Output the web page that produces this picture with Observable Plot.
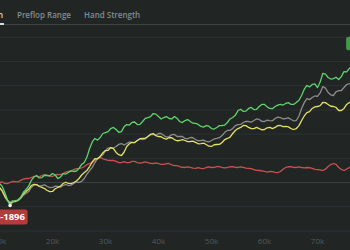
<!DOCTYPE html>
<html><head><meta charset="utf-8">
<script src="https://cdn.jsdelivr.net/npm/d3@7"></script>
<script src="https://cdn.jsdelivr.net/npm/@observablehq/plot@0.6"></script>
<style>
html,body{margin:0;padding:0;background:#212625;width:350px;height:250px;overflow:hidden;font-family:"Open Sans",sans-serif}
#tabs{position:relative;height:28px}
#sep{position:absolute;left:0;top:24px;width:350px;height:1px;background:#3d4244}
.tab{position:absolute;top:9px;font-size:8px;font-weight:600;color:#858b8f;white-space:nowrap;line-height:11px}
.tab.active{color:#d8dcde}
.ul{position:absolute;top:23px;height:2px;background:#d8dcde}
#chart svg{display:block}
</style></head>
<body>
<div id="tabs"><div id="sep"></div></div>
<div id="chart"></div>
<script>
const tabNames = ["Session", "Preflop Range", "Hand Strength"];
const hands = [10000,10500,11000,11500,12000,12500,13000,13500,14000,14500,
15000,15500,16000,16500,17000,17500,18000,18500,19000,19500,
20000,20500,21000,21500,22000,22500,23000,23500,24000,24500,
25000,25500,26000,26500,27000,27500,28000,28500,29000,29500,
30000,30500,31000,31500,32000,32500,33000,33500,34000,34500,
35000,35500,36000,36500,37000,37500,38000,38500,39000,39500,
40000,40500,41000,41500,42000,42500,43000,43500,44000,44500,
45000,45500,46000,46500,47000,47500,48000,48500,49000,49500,
50000,50500,51000,51500,52000,52500,53000,53500,54000,54500,
55000,55500,56000,56500,57000,57500,58000,58500,59000,59500,
60000,60500,61000,61500,62000,62500,63000,63500,64000,64500,
65000,65500,66000,66500,67000,67500,68000,68500,69000,69500,
70000,70500,71000,71500,72000,72500,73000,73500,74000,74500,
75000,75500,76000,76500,77000];
const netWon = [-80,-300,-830,-1450,-1896,-1600,-1490,-1450,-1240,-800,
-580,-300,170,450,580,380,410,600,580,550,
740,620,330,450,740,700,830,960,910,950,
1160,1500,1650,2100,2810,3350,3640,3500,3720,4050,
4130,4200,4460,4550,4380,4150,4210,4600,4790,4750,
4960,5000,4790,4800,5040,5300,5370,5450,5700,5650,
5450,5250,5370,5450,5290,5250,5450,5300,5040,4950,
5120,5200,5040,4900,4880,4800,4630,4580,4710,4650,
4460,4420,4550,4700,4710,4750,4960,5250,5370,5550,
5950,6050,5870,5900,6120,6200,6030,6050,6280,6450,
6450,6250,6120,6100,6280,6400,6450,6400,6530,6600,
6450,6450,6610,6800,7190,7700,8020,7900,8100,8150,
7850,8300,9010,8950,8680,8550,8590,8700,8510,8750,
9170,9150,9420,9600,9590];
const allInEV = [-410,-650,-1070,-1450,-1650,-1500,-1570,-1500,-1320,-1050,
-910,-750,-410,-200,-170,-300,-250,-200,-330,-420,
-410,-300,-330,-380,-250,-150,-250,-220,-80,50,
0,100,330,700,990,1250,1650,2000,2150,2300,
2640,2850,2890,2850,2980,3150,3220,3100,3220,3350,
3310,3300,3470,3600,3550,3600,3800,3950,3970,3900,
4050,4050,3880,3750,3800,3950,3970,3800,3800,3800,
3640,3600,3720,3700,3550,3450,3470,3500,3390,3350,
3470,3600,3640,3700,3880,4150,4300,4300,4460,4700,
4790,4800,4960,5050,5040,4980,5120,5250,5210,5050,
5040,5150,5120,5100,5290,5400,5370,5250,5290,5350,
5210,5100,5120,5500,6120,6600,6940,6850,7020,7150,
7110,7400,7930,7800,7440,7250,7190,7500,7600,7600,
7850,8100,8180,8150,8260];
const showdown = [-410,-700,-1160,-1500,-1740,-1600,-1570,-1450,-1240,-950,
-740,-550,-250,-150,-170,-330,-410,-500,-660,-760,
-740,-520,-410,-300,-80,20,-80,-100,0,120,
330,620,830,1000,1320,1700,1980,1950,2150,2450,
2640,2650,2890,2800,2480,2300,2230,2500,2980,3200,
3310,3300,3470,3620,3640,3650,3800,3980,4050,3880,
3800,3780,3640,3580,3720,3700,3550,3450,3470,3550,
3470,3380,3390,3420,3310,3200,3220,3250,3140,3000,
2980,3120,3140,3150,3310,3550,3640,3750,4050,4300,
4460,4550,4710,4700,4550,4450,4460,4550,4460,4350,
4380,4520,4550,4450,4550,4700,4710,4620,4630,4600,
4460,4380,4460,4700,5120,5500,5780,5850,6120,6250,
6280,6350,6610,6600,6450,6300,6280,6200,5950,5950,
6120,6450,6610,6600,6690];
const nonShowdown = [0,50,-80,-100,0,90,80,60,170,280,
330,330,410,500,500,470,580,640,580,520,
500,620,660,650,740,860,910,950,1070,1150,
1160,1200,1320,1480,1570,1650,1820,1980,2070,1960,
1900,1830,1820,1820,1740,1640,1650,1720,1650,1640,
1740,1740,1650,1600,1650,1700,1650,1580,1570,1630,
1570,1500,1490,1560,1570,1450,1400,1390,1320,1260,
1240,1300,1240,1180,1160,1220,1160,1150,1240,1290,
1240,1250,1320,1320,1240,1200,1240,1300,1320,1250,
1240,1300,1240,1180,1160,1140,1070,1000,990,970,
910,860,910,900,830,820,910,1100,1240,1300,
1320,1250,1240,1300,1240,1200,1240,1220,1160,1090,
1070,1050,990,1100,1320,1480,1570,1500,1240,1080,
990,1100,1240,1330,1400];
const xTicks = [10000,20000,30000,40000,50000,60000,70000];
const yTicks = [-4000,-2000,0,2000,4000,6000,8000,10000,12000];
const seriesNames = ["Non-showdown","All-in EV","Showdown","Net won"];
const seriesColors = ["#c9504f","#8c8c8c","#e3df63","#5fd36c"];
const seriesValues = [nonShowdown, allInEV, showdown, netWon];

// tabs
const tabsEl = document.getElementById("tabs");
const tabPos = [{right: 347}, {left: 17}, {left: 84}];
tabNames.forEach((t, i) => {
  const d = document.createElement("div");
  d.className = "tab" + (i === 0 ? " active" : "");
  d.textContent = t;
  if (tabPos[i].right != null) d.style.right = tabPos[i].right + "px"; else d.style.left = tabPos[i].left + "px";
  tabsEl.appendChild(d);
});
const ul = document.createElement("div");
ul.className = "ul"; ul.style.left = "-10px"; ul.style.width = "14px";
tabsEl.appendChild(ul);

const rows = [];
seriesValues.forEach((arr, s) => arr.forEach((v, i) => rows.push({series: seriesNames[s], h: hands[i], v})));
const minIdx = netWon.indexOf(d3.min(netWon));
const minPt = {h: hands[minIdx], v: netWon[minIdx]};
const lastIdx = netWon.length - 1;
const maxPt = {h: hands[lastIdx], v: d3.max(netWon)};

const chart = Plot.plot({
  width: 350, height: 222,
  marginLeft: 0, marginRight: 0, marginTop: 0, marginBottom: 17,
  style: {background: "transparent", color: "#52585b", fontSize: "8px", fontFamily: "Open Sans", overflow: "hidden"},
  x: {domain: [10189, 76226], range: [0, 350], label: null},
  y: {domain: [-4000, 12000], range: [202.4, 8.8], axis: null},
  color: {domain: seriesNames, range: seriesColors},
  marks: [
    Plot.ruleY(yTicks, {stroke: d => d === 0 ? "#3a3f41" : "#2c3133", strokeWidth: 1}),
    Plot.axisX(xTicks, {tickSize: 0, tickPadding: 5, tickFormat: d => d / 1000 + "k", fill: "#52585b", label: null}),
    Plot.line(rows, {x: "h", y: "v", z: "series", stroke: "series", strokeWidth: 1.3, curve: "linear"}),
    Plot.dot([minPt], {x: "h", y: "v", r: 1.8, fill: "#f2f2f2"})
  ]
});
document.getElementById("chart").appendChild(chart);

// value badges, positioned through the plot's own scales
const sx = chart.scale("x"), sy = chart.scale("y");
const NS = "http://www.w3.org/2000/svg";
function badge(pt, color, offX, offY, w, h) {
  const px = sx.apply(pt.h), py = sy.apply(pt.v);
  const g = document.createElementNS(NS, "g");
  const r = document.createElementNS(NS, "rect");
  r.setAttribute("x", px + offX); r.setAttribute("y", py + offY);
  r.setAttribute("width", w); r.setAttribute("height", h);
  r.setAttribute("rx", 2.5); r.setAttribute("fill", color);
  const t = document.createElementNS(NS, "text");
  t.setAttribute("x", px + offX + w / 2); t.setAttribute("y", py + offY + h / 2);
  t.setAttribute("text-anchor", "middle"); t.setAttribute("dominant-baseline", "central");
  t.setAttribute("fill", "#ffffff"); t.setAttribute("font-size", "9.5"); t.setAttribute("font-weight", "700");
  t.setAttribute("font-family", "Open Sans");
  t.textContent = String(pt.v);
  g.appendChild(r); g.appendChild(t);
  chart.appendChild(g);
}
badge(minPt, "#b23b3b", -12, 4.5, 30, 15);
badge(maxPt, "#3e9a48", -8, -29, 34, 13.5);
</script>
</body></html>
